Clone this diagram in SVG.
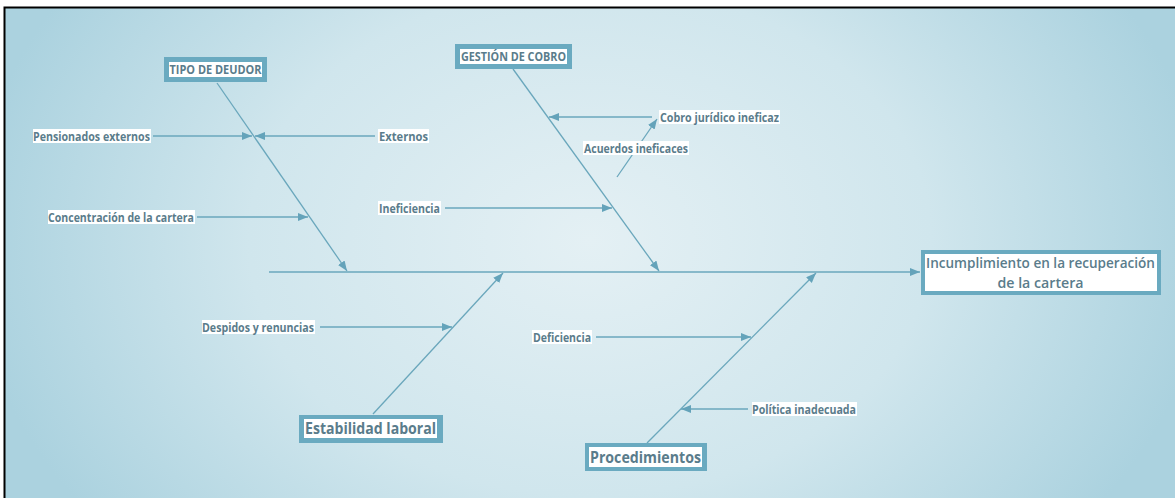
<svg xmlns="http://www.w3.org/2000/svg" width="1175" height="498" viewBox="0 0 1175 498">
  <defs>
    <radialGradient id="bg" cx="590" cy="240" r="620" gradientUnits="userSpaceOnUse" gradientTransform="translate(590 240) scale(1 0.75) translate(-590 -240)">
      <stop offset="0" stop-color="#e4f0f4"/>
      <stop offset="0.55" stop-color="#d0e6ed"/>
      <stop offset="1" stop-color="#abd2df"/>
    </radialGradient>
    <marker id="arr" markerUnits="userSpaceOnUse" markerWidth="11" markerHeight="9" refX="10" refY="4" orient="auto">
      <path d="M0,0 L10,4 L0,8 z" fill="#64a3ba"/>
    </marker>
    <style>
      .la { stroke:#6aa7bc; stroke-width:1.3; fill:none; marker-end:url(#arr); }
      .lbl { font-family:"Open Sans", "Liberation Sans", sans-serif; font-weight:700; font-size:12px; fill:#5a7c8b; }
      .hl { fill:#ffffff; }
      .box { fill:#6aaac0; }
      .inner { fill:#ffffff; }
      .ttl { font-family:"Open Sans", "Liberation Sans", sans-serif; font-weight:700; fill:#5a7c8b; text-anchor:middle; }
      .eff { font-family:"Open Sans", "Liberation Sans", sans-serif; font-weight:600; fill:#5a7c8b; text-anchor:middle; font-size:14.5px; }
    </style>
  </defs>

  <rect x="0" y="0" width="1175" height="498" fill="#ffffff"/>
  <rect x="5" y="8" width="1170" height="490" fill="url(#bg)"/>
  <path d="M4.5 498 V7.5 H1175" stroke="#000000" stroke-width="2" fill="none"/>

  <g id="connectors">
    <line class="la" x1="269" y1="272" x2="920" y2="272"/>
    <line class="la" x1="217" y1="83" x2="347" y2="271"/>
    <line class="la" x1="153" y1="136" x2="252" y2="136"/>
    <line class="la" x1="375" y1="136" x2="255" y2="136"/>
    <line class="la" x1="197" y1="217" x2="308" y2="217"/>
    <line class="la" x1="513" y1="69" x2="659" y2="271"/>
    <line class="la" x1="652" y1="117" x2="549" y2="117"/>
    <line class="la" x1="617" y1="177" x2="657" y2="119"/>
    <line class="la" x1="445" y1="208" x2="612" y2="208"/>
    <line class="la" x1="373" y1="414" x2="503" y2="273"/>
    <line class="la" x1="320" y1="327" x2="452" y2="327"/>
    <line class="la" x1="647" y1="443" x2="816" y2="273"/>
    <line class="la" x1="596" y1="337" x2="751" y2="337"/>
    <line class="la" x1="748" y1="409" x2="681" y2="409"/>
  </g>

  <g id="effect">
    <rect x="921" y="250" width="240" height="45" class="box"/>
    <rect x="925" y="254" width="232" height="37" class="inner"/>
    <text class="eff" x="1040.5" y="267.5" textLength="229" lengthAdjust="spacingAndGlyphs">Incumplimiento en la recuperación</text>
    <text class="eff" x="1040.5" y="288" textLength="86" lengthAdjust="spacingAndGlyphs">de la cartera</text>
  </g>

  <g id="tipo-deudor">
    <rect x="164" y="57" width="103" height="25" class="box"/>
    <rect x="169" y="62" width="93" height="15" class="inner"/>
    <text class="ttl" x="215.5" y="74" font-size="12" textLength="92" lengthAdjust="spacingAndGlyphs">TIPO DE DEUDOR</text>
  </g>

  <g id="gestion-cobro">
    <rect x="455" y="44" width="117" height="25" class="box"/>
    <rect x="460" y="49" width="107" height="15" class="inner"/>
    <text class="ttl" x="513.5" y="61" font-size="12" textLength="105" lengthAdjust="spacingAndGlyphs">GESTIÓN DE COBRO</text>
  </g>

  <g id="estabilidad-laboral">
    <rect x="299" y="415" width="144" height="28" class="box"/>
    <rect x="304" y="419" width="133" height="19" class="inner"/>
    <text class="ttl" x="370.5" y="434" font-size="16" textLength="131" lengthAdjust="spacingAndGlyphs">Estabilidad laboral</text>
  </g>

  <g id="procedimientos">
    <rect x="585" y="443" width="122" height="28" class="box"/>
    <rect x="589" y="447" width="113" height="20" class="inner"/>
    <text class="ttl" x="645.5" y="462.5" font-size="16" textLength="111" lengthAdjust="spacingAndGlyphs">Procedimientos</text>
  </g>

  <g id="pensionados-externos">
    <rect class="hl" x="33" y="129" width="118" height="14"/>
    <text class="lbl" x="33" y="140.5" textLength="117" lengthAdjust="spacingAndGlyphs">Pensionados externos</text>
  </g>
  <g id="externos">
    <rect class="hl" x="378" y="129" width="51" height="14"/>
    <text class="lbl" x="379" y="140.5" textLength="49" lengthAdjust="spacingAndGlyphs">Externos</text>
  </g>
  <g id="concentracion">
    <rect class="hl" x="48" y="210" width="147" height="14"/>
    <text class="lbl" x="48" y="221.5" textLength="146" lengthAdjust="spacingAndGlyphs">Concentración de la cartera</text>
  </g>
  <g id="cobro-juridico">
    <rect class="hl" x="659" y="110" width="121" height="14"/>
    <text class="lbl" x="660" y="121.5" textLength="119" lengthAdjust="spacingAndGlyphs">Cobro jurídico ineficaz</text>
  </g>
  <g id="acuerdos">
    <rect class="hl" x="583" y="141" width="106" height="14"/>
    <text class="lbl" x="584" y="152.5" textLength="104" lengthAdjust="spacingAndGlyphs">Acuerdos ineficaces</text>
  </g>
  <g id="ineficiencia">
    <rect class="hl" x="378" y="201" width="63" height="14"/>
    <text class="lbl" x="379" y="212.5" textLength="61" lengthAdjust="spacingAndGlyphs">Ineficiencia</text>
  </g>
  <g id="despidos">
    <rect class="hl" x="202" y="320" width="113" height="14"/>
    <text class="lbl" x="202" y="331.5" textLength="112" lengthAdjust="spacingAndGlyphs">Despidos y renuncias</text>
  </g>
  <g id="deficiencia">
    <rect class="hl" x="532" y="330" width="60" height="14"/>
    <text class="lbl" x="533" y="341.5" textLength="58" lengthAdjust="spacingAndGlyphs">Deficiencia</text>
  </g>
  <g id="politica">
    <rect class="hl" x="752" y="402" width="105" height="14"/>
    <text class="lbl" x="752" y="413.5" textLength="104" lengthAdjust="spacingAndGlyphs">Política inadecuada</text>
  </g>
</svg>
